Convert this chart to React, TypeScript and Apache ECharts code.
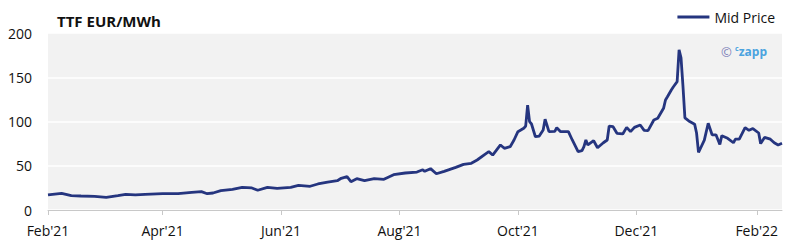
import React, { useEffect, useRef } from "react";
import * as echarts from "echarts";

const dates: string[] = [
  "2021-02-01","2021-02-08","2021-02-13","2021-02-18","2021-02-25","2021-03-03","2021-03-09","2021-03-13","2021-03-18","2021-03-23",
  "2021-04-01","2021-04-09","2021-04-16","2021-04-21","2021-04-24","2021-04-27","2021-05-01","2021-05-07","2021-05-12","2021-05-17",
  "2021-05-20","2021-05-25","2021-05-30","2021-06-06","2021-06-10","2021-06-16","2021-06-20","2021-06-25","2021-06-30","2021-07-02",
  "2021-07-05","2021-07-07","2021-07-10","2021-07-14","2021-07-19","2021-07-24","2021-07-29","2021-08-04","2021-08-10","2021-08-13",
  "2021-08-14","2021-08-17","2021-08-20","2021-08-24","2021-08-30","2021-09-03","2021-09-07","2021-09-10","2021-09-14","2021-09-16",
  "2021-09-18","2021-09-22","2021-09-24","2021-09-27","2021-09-29","2021-10-01","2021-10-04","2021-10-05","2021-10-06","2021-10-07",
  "2021-10-08","2021-10-10","2021-10-12","2021-10-14","2021-10-15","2021-10-17","2021-10-20","2021-10-21","2021-10-23","2021-10-27",
  "2021-10-29","2021-11-01","2021-11-03","2021-11-04","2021-11-05","2021-11-06","2021-11-09","2021-11-11","2021-11-14","2021-11-16",
  "2021-11-17","2021-11-19","2021-11-21","2021-11-24","2021-11-26","2021-11-28","2021-11-30","2021-12-03","2021-12-05","2021-12-07",
  "2021-12-10","2021-12-12","2021-12-15","2021-12-16","2021-12-17","2021-12-19","2021-12-20","2021-12-22","2021-12-23","2021-12-24",
  "2021-12-25","2021-12-26","2021-12-28","2021-12-31","2022-01-01","2022-01-02","2022-01-05","2022-01-07","2022-01-09","2022-01-11",
  "2022-01-13","2022-01-14","2022-01-17","2022-01-20","2022-01-21","2022-01-23","2022-01-26","2022-01-28","2022-01-30","2022-02-02",
  "2022-02-03","2022-02-05","2022-02-08","2022-02-10","2022-02-12","2022-02-14"
];

const midPrice: number[] = [
  17, 18.9, 16.2, 15.8, 15.5, 14.3, 16.2, 17.7, 17, 17.7,
  18.4, 18.4, 20, 20.7, 18.4, 19.2, 21.8, 23.4, 25.6, 24.9,
  22.3, 25.6, 24.5, 25.6, 27.9, 26.8, 29.4, 31.6, 33.1, 35.8,
  37.7, 32, 35.4, 33.1, 35.4, 34.7, 39.9, 41.8, 42.9, 45.5,
  43.7, 46.7, 41, 43.7, 48.2, 51.6, 52.8, 56.5, 62.9, 65.9,
  62.1, 73.5, 69.7, 71.5, 79.1, 88.5, 92.3, 94.9, 118.6, 99.8,
  97.2, 82.8, 83.6, 90.4, 102.5, 88.5, 88.9, 93, 88.5, 88.5,
  79.1, 65.9, 67, 71.5, 79.1, 73.5, 78.3, 70.4, 76, 79.1,
  94.9, 94.1, 86.7, 85.9, 93.4, 88.5, 93.4, 96, 90, 89.6,
  101.7, 103.6, 114.9, 124.3, 128, 135.6, 139, 145, 181, 172,
  140, 104, 100.6, 97, 87, 65, 79, 98, 85, 85,
  74, 84, 81, 76, 80, 80, 93, 90, 92, 87,
  75, 82, 80, 76, 73.5, 75.4
];

const tickDates: string[] = [
  "2021-02-01", "2021-04-01", "2021-06-01", "2021-08-01", "2021-10-01", "2021-12-01", "2022-02-01"
];
const monthNames: string[] = ["Jan","Feb","Mar","Apr","May","Jun","Jul","Aug","Sep","Oct","Nov","Dec"];
const yTicks: number[] = [0, 50, 100, 150, 200];

const toTs = (s: string) => {
  const [y, m, d] = s.split("-").map(Number);
  return new Date(y, m - 1, d).getTime();
};

const FONT = "'Open Sans', sans-serif";

export default function App() {
  const ref = useRef<HTMLDivElement>(null);
  useEffect(() => {
    document.body.style.margin = "0";
    if (!ref.current) return;
    const chart = echarts.init(ref.current, undefined, { renderer: "svg" });
    const tickTs = tickDates.map(toTs);
    chart.setOption({
      animation: false,
      textStyle: { fontFamily: FONT },
      title: {
        text: "TTF EUR/MWh",
        left: 52,
        top: 8,
        textStyle: { fontSize: 15, fontWeight: "bold", color: "#111", fontFamily: FONT },
      },
      legend: {
        right: 8,
        top: 5,
        icon: "rect",
        itemWidth: 32,
        itemHeight: 3,
        textStyle: { fontSize: 14, color: "#111", fontFamily: FONT },
        data: ["Mid Price"],
      },
      grid: {
        left: 48,
        right: 6,
        top: 33,
        height: 177,
        show: true,
        backgroundColor: "#f2f2f2",
        borderWidth: 0,
        containLabel: false,
      },
      xAxis: {
        type: "value",
        min: toTs(dates[0]),
        max: toTs(dates[dates.length - 1]),
        axisLine: { show: true, lineStyle: { color: "#c8c8c8", width: 1 } },
        axisTick: { show: true, customValues: tickTs, length: 5, lineStyle: { color: "#c8c8c8" } },
        axisLabel: {
          customValues: tickTs,
          fontSize: 14,
          color: "#111",
          margin: 13,
          fontFamily: FONT,
          showMinLabel: true,
          showMaxLabel: true,
          formatter: (v: number) => {
            const d = new Date(v);
            return monthNames[d.getMonth()] + "'" + String(d.getFullYear()).slice(2);
          },
        },
        splitLine: { show: false },
      },
      yAxis: {
        type: "value",
        min: yTicks[0],
        max: yTicks[yTicks.length - 1],
        interval: 50,
        axisLine: { show: false },
        axisTick: { show: false },
        axisLabel: { fontSize: 14, color: "#111", margin: 16, fontFamily: FONT },
        splitLine: { show: true, lineStyle: { color: "#ffffff", width: 1.5 } },
      },
      graphic: [
        {
          type: "text",
          right: 21,
          top: 45,
          style: {
            text: "{a|©} {b|c}{c|zapp}",
            rich: {
              a: { fontSize: 13, fill: "#7b80b8", fontFamily: FONT },
              b: { fontSize: 7, fill: "#4aa3df", fontWeight: "bold", fontFamily: FONT, verticalAlign: "top", padding: [0, 0, 5, 0] },
              c: { fontSize: 12, fill: "#4aa3df", fontWeight: "bold", fontFamily: FONT },
            },
          },
        },
      ],
      series: [
        {
          name: "Mid Price",
          type: "line",
          showSymbol: false,
          symbol: "none",
          data: dates.map((d, i) => [toTs(d), midPrice[i]]),
          lineStyle: { color: "#25357f", width: 2.8 },
          itemStyle: { color: "#25357f" },
        },
      ],
    });
    return () => chart.dispose();
  }, []);
  return <div ref={ref} style={{ width: 788, height: 243 }} />;
}
